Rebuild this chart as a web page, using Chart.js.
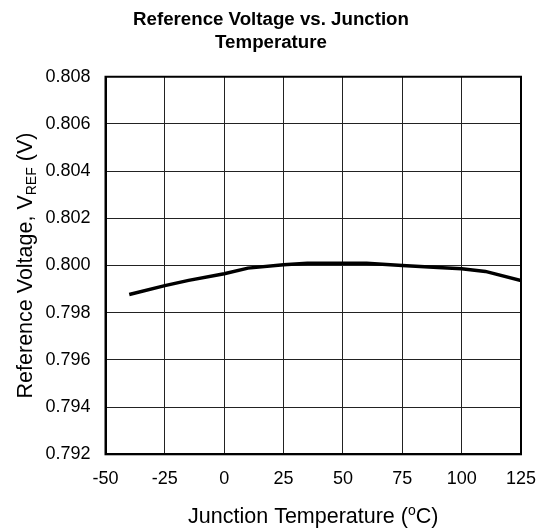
<!DOCTYPE html>
<html>
<head>
<meta charset="utf-8">
<script src="https://cdn.jsdelivr.net/npm/chart.js@4/dist/chart.umd.min.js"></script>
<style>
  html, body { margin: 0; padding: 0; background: #fff; }
</style>
</head>
<body>
<canvas id="vrefChart" width="542" height="531"></canvas>
<script>
// Datos
const temps = [-40, -25, -15, 0, 10, 25, 35, 60, 75, 90, 100, 110, 125];
const vref = [0.79877, 0.79915, 0.79937, 0.79965, 0.79989, 0.80003, 0.8001, 0.8001, 0.8000, 0.79992, 0.79986, 0.79975, 0.79936];

// Ejes
const xTicks = [-50, -25, 0, 25, 50, 75, 100, 125];
const yTicks = [0.792, 0.794, 0.796, 0.798, 0.800, 0.802, 0.804, 0.806, 0.808];

const titleLines = ['Reference Voltage vs. Junction', 'Temperature'];
const FONT = '"Liberation Sans", Arial, Helvetica, sans-serif';

// Dibuja un texto por trozos (para sub/superindices)
const drawParts = (ctx, parts, cx, y) => {
  const widths = parts.map((p) => {
    ctx.font = p.size + 'px ' + FONT;
    return ctx.measureText(p.text).width;
  });
  const total = widths.reduce((a, b) => a + b, 0);
  let x = cx - total / 2;
  parts.forEach((p, i) => {
    ctx.font = p.size + 'px ' + FONT;
    ctx.fillText(p.text, x, y + p.dy);
    x += widths[i];
  });
};

// Titulos de ejes con subindice / superindice y marco del area
const framePlugin = {
  id: 'framePlugin',
  afterDraw(chart) {
    const { ctx, chartArea } = chart;
    const { left, right, top, bottom } = chartArea;
    ctx.save();
    ctx.strokeStyle = '#000';
    ctx.lineWidth = 2;
    ctx.strokeRect(left, top, right - left, bottom - top);

    ctx.fillStyle = '#000';
    ctx.textAlign = 'left';
    ctx.textBaseline = 'alphabetic';
    drawParts(ctx, [
      { text: 'Junction Temperature (', size: 21.5, dy: 0 },
      { text: 'o', size: 14, dy: -8 },
      { text: 'C)', size: 21.5, dy: 0 },
    ], (left + right) / 2, 523);

    ctx.translate(31.5, (top + bottom) / 2);
    ctx.rotate(-Math.PI / 2);
    drawParts(ctx, [
      { text: 'Reference Voltage, V', size: 21.5, dy: 0 },
      { text: 'REF', size: 14, dy: 4 },
      { text: ' (V)', size: 21.5, dy: 0 },
    ], 0, 0);
    ctx.restore();
  },
};

const ctx = document.getElementById('vrefChart').getContext('2d');

new Chart(ctx, {
  type: 'line',
  data: {
    datasets: [
      {
        data: temps.map((t, i) => ({ x: t, y: vref[i] })),
        borderColor: '#000',
        borderWidth: 3.5,
        pointRadius: 0,
        tension: 0,
        fill: false,
      },
    ],
  },
  options: {
    responsive: false,
    animation: false,
    devicePixelRatio: 1,
    layout: { padding: 0 },
    scales: {
      x: {
        type: 'linear',
        min: xTicks[0],
        max: xTicks[xTicks.length - 1],
        afterBuildTicks: (scale) => {
          scale.ticks = xTicks.map((v) => ({ value: v }));
        },
        afterFit: (scale) => {
          // espacio fijo bajo el grafico y margen derecho
          scale.height = 76.7;
          scale.paddingLeft = 0;
          scale.paddingRight = 21;
        },
        grid: { color: '#222', lineWidth: 1, drawTicks: false },
        border: { display: true, color: '#000', width: 2 },
        ticks: {
          color: '#000',
          padding: 14,
          font: { family: FONT, size: 18 },
          maxRotation: 0,
          callback: (v) => String(v),
        },
      },
      y: {
        min: yTicks[0],
        max: yTicks[yTicks.length - 1],
        afterBuildTicks: (scale) => {
          scale.ticks = yTicks.map((v) => ({ value: v }));
        },
        afterFit: (scale) => {
          scale.width = 105.5;
          scale.paddingTop = 0;
          scale.paddingBottom = 0;
        },
        grid: { color: '#222', lineWidth: 1, drawTicks: false },
        border: { display: true, color: '#000', width: 2 },
        ticks: {
          color: '#000',
          padding: 15,
          font: { family: FONT, size: 18 },
          callback: (v) => Number(v).toFixed(3),
        },
      },
    },
    plugins: {
      legend: { display: false },
      tooltip: { enabled: false },
      title: {
        display: true,
        text: titleLines,
        color: '#000',
        font: { family: FONT, size: 18.7, weight: 'bold', lineHeight: 1.25 },
        padding: { top: 8, bottom: 22 },
      },
    },
  },
  plugins: [framePlugin],
});
</script>
</body>
</html>
